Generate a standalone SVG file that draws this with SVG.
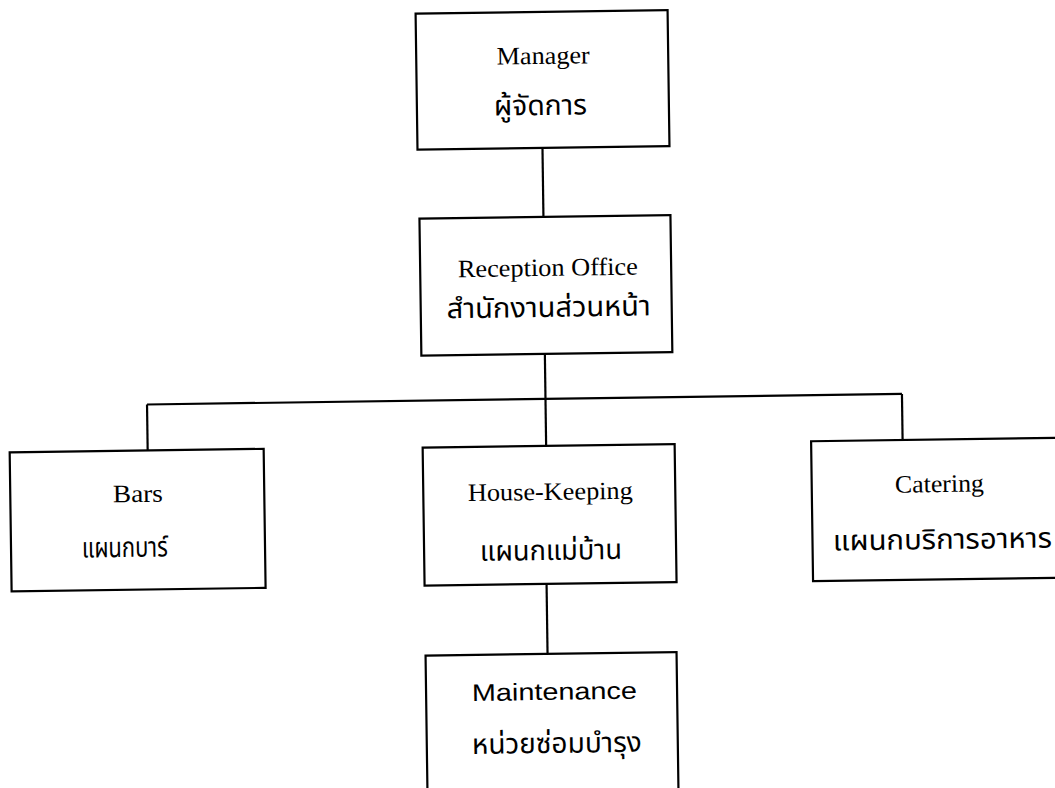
<svg xmlns="http://www.w3.org/2000/svg" width="1055" height="788" viewBox="0 0 1055 788">
<style>
.box{fill:#fff;stroke:#000;stroke-width:2.2}
.ln{fill:none;stroke:#000;stroke-width:2.2}
.en{font-family:"Liberation Serif","Times New Roman",serif;font-size:25px;fill:#000;text-anchor:middle}
.ens{font-family:"Liberation Sans",Arial,sans-serif;font-size:24px;fill:#000;text-anchor:middle}
.th{font-family:"Noto Sans Thai","Noto Serif Thai","Loma","Garuda","Norasi","Tlwg Typo","DejaVu Sans",sans-serif;font-size:28px;fill:#000;text-anchor:middle}
</style>
<rect width="1055" height="788" fill="#fff"/>
<g transform="rotate(-0.8 540 400)">
<g id="connectors">
<line class="ln" x1="546" y1="148" x2="546" y2="217"/>
<line class="ln" x1="545.5" y1="354" x2="545.5" y2="446"/>
<line class="ln" x1="147" y1="399" x2="902" y2="399"/>
<line class="ln" x1="147" y1="399" x2="147" y2="445"/>
<line class="ln" x1="902" y1="399" x2="902" y2="445"/>
<line class="ln" x1="544" y1="584" x2="544" y2="654"/>
</g>
<g id="manager">
<rect class="box" x="421" y="12" width="252" height="136"/>
<text class="en" x="548" y="64" textLength="93" lengthAdjust="spacingAndGlyphs">Manager</text>
<text class="th" x="544.5" y="115" textLength="93" lengthAdjust="spacingAndGlyphs">ผู้จัดการ</text>
</g>
<g id="reception">
<rect class="box" x="422" y="217" width="251" height="137"/>
<text class="en" x="549.7" y="276" textLength="180" lengthAdjust="spacingAndGlyphs">Reception Office</text>
<text class="th" x="550" y="317" textLength="204" lengthAdjust="spacingAndGlyphs">สำนักงานส่วนหน้า</text>
</g>
<g id="bars">
<rect class="box" x="9" y="445" width="254" height="139"/>
<text class="en" x="136.6" y="496.4" textLength="50" lengthAdjust="spacingAndGlyphs">Bars</text>
<text class="th" x="122.8" y="551.2" textLength="86" lengthAdjust="spacingAndGlyphs">แผนกบาร์</text>
</g>
<g id="housekeeping">
<rect class="box" x="422" y="446" width="252" height="138"/>
<text class="en" x="549" y="500" textLength="165" lengthAdjust="spacingAndGlyphs">House-Keeping</text>
<text class="th" x="548.8" y="560" textLength="142" lengthAdjust="spacingAndGlyphs">แผนกแม่บ้าน</text>
</g>
<g id="catering">
<rect class="box" x="810.5" y="445" width="270" height="140"/>
<text class="en" x="938.2" y="497.6" textLength="89" lengthAdjust="spacingAndGlyphs">Catering</text>
<text class="th" x="940.4" y="554.6" textLength="219" lengthAdjust="spacingAndGlyphs">แผนกบริการอาหาร</text>
</g>
<g id="maintenance">
<rect class="box" x="422" y="654" width="251" height="160"/>
<text class="ens" x="550.3" y="700" textLength="165" lengthAdjust="spacingAndGlyphs">Maintenance</text>
<text class="th" x="552" y="753" textLength="170" lengthAdjust="spacingAndGlyphs">หน่วยซ่อมบำรุง</text>
</g>
</g>
</svg>
